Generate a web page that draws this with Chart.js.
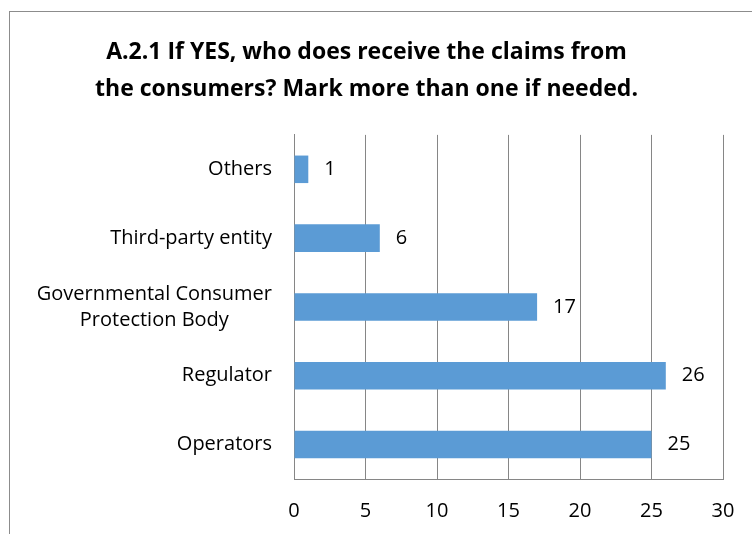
<!DOCTYPE html>
<html>
<head>
<meta charset="utf-8">
<script src="https://cdn.jsdelivr.net/npm/chart.js@4.4.1/dist/chart.umd.min.js"></script>
<style>
  html, body { margin: 0; padding: 0; background: #fff; overflow: hidden; }
  #wrap {
    position: absolute; left: 9px; top: 11px;
    width: 760px; height: 540px;
    border: 1px solid #8c8c8c; box-sizing: border-box;
  }
  #chart { position: absolute; left: 0; top: 0; }
</style>
</head>
<body>
<div id="wrap"><canvas id="chart" width="752" height="534"></canvas></div>
<script>
// Kategóriák és értékek
const categories = ["Others", "Third-party entity", ["Governmental Consumer", "Protection Body"], "Regulator", "Operators"];
const counts = [1, 6, 17, 26, 25];
const titleLines = ["A.2.1 If YES, who does receive the claims from", "the consumers? Mark more than one if needed."];

const FONT = "'Open Sans', sans-serif";
const LABEL_SIZE = 20;

// Értékcímkék a sávok végén
const valueLabels = {
  id: "valueLabels",
  afterDatasetsDraw(chart) {
    const ctx = chart.ctx;
    const meta = chart.getDatasetMeta(0);
    ctx.save();
    ctx.font = LABEL_SIZE + "px " + FONT;
    ctx.fillStyle = "#000";
    ctx.textAlign = "left";
    ctx.textBaseline = "middle";
    meta.data.forEach((bar, i) => {
      ctx.fillText(String(counts[i]), bar.x + 16, bar.y);
    });
    ctx.restore();
  }
};

// Kategória feliratok: a többsoros blokk jobbra zárt, a sorai középre igazítva
const categoryLabels = {
  id: "categoryLabels",
  afterDraw(chart) {
    const ctx = chart.ctx;
    const y = chart.scales.y;
    const right = y.right - 22;
    const lh = 26;
    ctx.save();
    ctx.font = LABEL_SIZE + "px " + FONT;
    ctx.fillStyle = "#000";
    ctx.textAlign = "center";
    ctx.textBaseline = "middle";
    categories.forEach((lab, i) => {
      const lines = Array.isArray(lab) ? lab : [lab];
      const w = Math.max(...lines.map(l => ctx.measureText(l).width));
      const cx = right - w / 2;
      const cy = y.getPixelForTick(i);
      lines.forEach((l, k) => {
        ctx.fillText(l, cx, cy + (k - (lines.length - 1) / 2) * lh);
      });
    });
    ctx.restore();
  }
};

new Chart(document.getElementById("chart"), {
  type: "bar",
  data: {
    labels: categories,
    datasets: [{
      data: counts,
      backgroundColor: "#5b9bd5",
      categoryPercentage: 1,
      barPercentage: 0.4
    }]
  },
  options: {
    indexAxis: "y",
    responsive: false,
    animation: false,
    layout: { padding: { left: 0, right: 39, top: 0, bottom: 0 } },
    plugins: {
      legend: { display: false },
      tooltip: { enabled: false },
      title: {
        display: true,
        text: titleLines,
        color: "#000",
        font: { family: FONT, size: 23, weight: "bold", lineHeight: 1.65 },
        padding: { top: 21, bottom: 26 }
      }
    },
    scales: {
      x: {
        min: 0, max: 30,
        ticks: { stepSize: 5, color: "#000", font: { family: FONT, size: LABEL_SIZE }, padding: 20 },
        grid: { color: "#868686", drawTicks: false },
        border: { color: "#868686" },
        afterFit(scale) { scale.height = 67; }
      },
      y: {
        ticks: { display: false },
        grid: { display: false, drawTicks: false },
        border: { color: "#868686" },
        afterFit(scale) { scale.width = 284; }
      }
    }
  },
  plugins: [valueLabels, categoryLabels]
});
</script>
</body>
</html>
